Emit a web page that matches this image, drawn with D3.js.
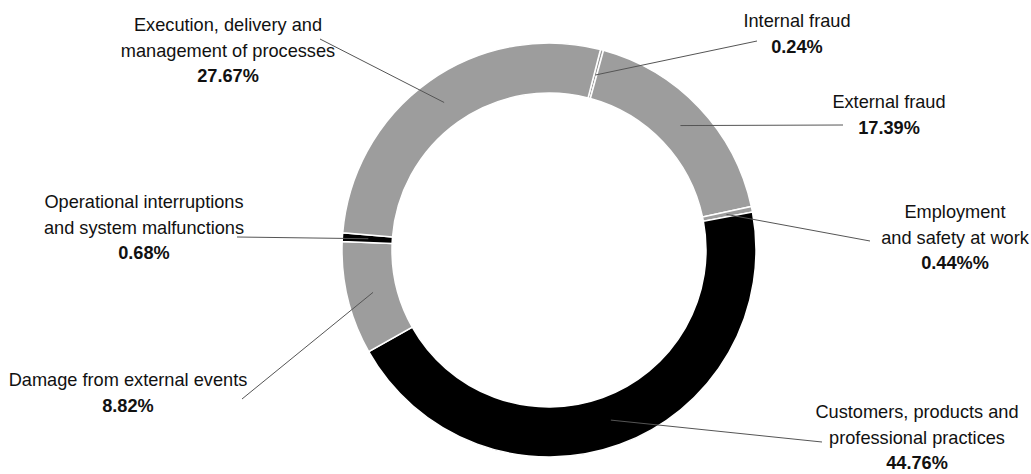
<!DOCTYPE html>
<html>
<head>
<meta charset="utf-8">
<script src="https://cdn.jsdelivr.net/npm/d3@7"></script>
<style>
  body { margin: 0; background: #fff; }
  svg text { font-family: "Liberation Sans Narrow", "Arial Narrow", sans-serif; fill: #111; }
</style>
</head>
<body>
<div id="chart"></div>
<script>
// Operational risk losses by event type (share of total)
const categories = [
    'Internal fraud',
    'External fraud',
    'Employment and safety at work',
    'Customers, products and professional practices',
    'Damage from external events',
    'Operational interruptions and system malfunctions',
    'Execution, delivery and management of processes'
];
const shares = [0.24, 17.39, 0.44, 44.76, 8.82, 0.68, 27.67];
const valueLabels = ['0.24%', '17.39%', '0.44%%', '44.76%', '8.82%', '0.68%', '27.67%'];
// how each category name is broken over lines in the label
const labelLines = [
    ['Internal fraud'],
    ['External fraud'],
    ['Employment', 'and safety at work'],
    ['Customers, products and', 'professional practices'],
    ['Damage from external events'],
    ['Operational interruptions', 'and system malfunctions'],
    ['Execution, delivery and', 'management of processes']
];
const sliceColors = ['#9d9d9d', '#9d9d9d', '#9d9d9d', '#000000', '#9d9d9d', '#000000', '#9d9d9d'];

// label placement (center of text block, first baseline) and leader end point
const labelPos = [
    { x: 797, y: 27, lx: 757, ly: 41 },
    { x: 889, y: 108, lx: 843, ly: 125 },
    { x: 955, y: 218, lx: 870, ly: 241 },
    { x: 917, y: 418, lx: 822, ly: 442 },
    { x: 128, y: 386, lx: 242, ly: 399 },
    { x: 144, y: 208, lx: 237, ly: 237 },
    { x: 228, y: 31, lx: 320, ly: 39 }
];

const width = 1031;
const height = 474;
const cx = 549, cy = 250;
const outerR = 207, innerR = 157;
const lineStep = 25.5;

const svg = d3.select('#chart')
    .append('svg')
    .attr('width', width)
    .attr('height', height);

const data = categories.map((c, i) => ({ name: c, value: shares[i], idx: i }));

const pie = d3.pie()
    .value(d => d.value)
    .sort(null)
    .startAngle(14.4 * Math.PI / 180)
    .endAngle(14.4 * Math.PI / 180 + 2 * Math.PI);

const arc = d3.arc().innerRadius(innerR).outerRadius(outerR);
const leaderArc = d3.arc().innerRadius(172).outerRadius(190);

const g = svg.append('g').attr('transform', `translate(${cx}, ${cy})`);

const arcs = pie(data);

g.selectAll('path.slice')
    .data(arcs)
    .enter()
    .append('path')
    .attr('class', 'slice')
    .attr('d', arc)
    .attr('fill', d => sliceColors[d.data.idx])
    .attr('stroke', '#fff')
    .attr('stroke-width', 1.5);

// Leader lines from slice to label
svg.selectAll('line.leader')
    .data(arcs)
    .enter()
    .append('line')
    .attr('class', 'leader')
    .attr('x1', d => cx + leaderArc.centroid(d)[0])
    .attr('y1', d => cy + leaderArc.centroid(d)[1])
    .attr('x2', d => labelPos[d.data.idx].lx)
    .attr('y2', d => labelPos[d.data.idx].ly)
    .attr('stroke', '#555')
    .attr('stroke-width', 1);

// Labels
arcs.forEach(d => {
    const i = d.data.idx;
    const p = labelPos[i];
    const t = svg.append('text')
        .attr('x', p.x)
        .attr('y', p.y)
        .attr('text-anchor', 'middle')
        .attr('font-size', '18.2px');
    labelLines[i].forEach((line, k) => {
        t.append('tspan')
            .attr('x', p.x)
            .attr('y', p.y + k * lineStep)
            .text(line);
    });
    t.append('tspan')
        .attr('x', p.x)
        .attr('y', p.y + labelLines[i].length * lineStep)
        .attr('font-weight', 'bold')
        .text(valueLabels[i]);
});
</script>
</body>
</html>
